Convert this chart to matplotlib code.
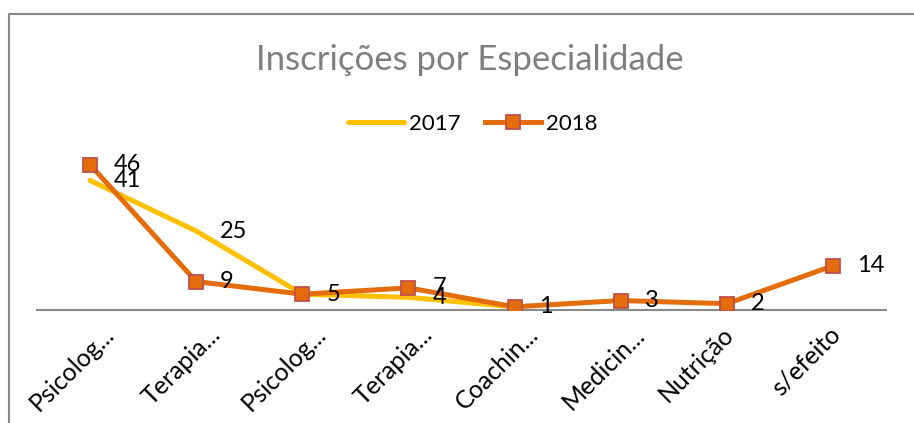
import matplotlib.pyplot as plt
from matplotlib.lines import Line2D
from matplotlib.transforms import ScaledTranslation
import numpy as np

plt.rcParams['font.family'] = ['Lato', 'DejaVu Sans']

categories = ["Psicolog...", "Terapia...", "Psicolog...", "Terapia...",
              "Coachin...", "Medicin...", "Nutrição", "s/efeito"]
v2017 = [41, 25, 5, 4, 1, np.nan, np.nan, np.nan]
v2018 = [46, 9, 5, 7, 1, 3, 2, 14]
labels2017 = [0, 1, 3]  # points of 2017 whose labels are visible

fig = plt.figure(figsize=(9.14, 4.23), dpi=100)
ax = fig.add_axes([37 / 914, 113 / 423, 849 / 914, 158 / 423])

x = np.arange(len(categories))
ax.plot(x, v2017, color="#FFC000", lw=3.6, solid_capstyle="round", label="2017")
ax.plot(x, v2018, color="#E46C0A", lw=3.6, marker="s", markersize=9.5,
        markerfacecolor="#E46C0A", markeredgecolor="#C0504D", markeredgewidth=1.3,
        label="2018")

off = ScaledTranslation(24 / 100, 0, fig.dpi_scale_trans)
for i in labels2017:
    ax.text(x[i], v2017[i], str(v2017[i]), fontsize=17, ha="left", va="center",
            transform=ax.transData + off)
for i, v in enumerate(v2018):
    ax.text(x[i], v, str(v), fontsize=17, ha="left", va="center",
            transform=ax.transData + off)

ax.set_xlim(-0.5, len(categories) - 0.5)
ax.set_ylim(0, 50)
ax.set_yticks([])
for s in ["top", "right", "left"]:
    ax.spines[s].set_visible(False)
ax.spines["bottom"].set_color("#898989")
ax.spines["bottom"].set_linewidth(1.5)
ax.spines["bottom"].set_zorder(0)

ax.set_xticks(x)
ax.set_xticklabels(categories, rotation=45, ha="right", rotation_mode="anchor",
                   fontsize=18)
ax.tick_params(axis="x", length=0, pad=9)
for lab in ax.get_xticklabels():
    dx = 12 if lab.get_text().endswith("...") else -5
    lab.set_transform(lab.get_transform() +
                      ScaledTranslation(dx / 100, 0, fig.dpi_scale_trans))

fig.text(469.5 / 914, 1 - 60 / 423, "Inscrições por Especialidade", fontsize=25,
         color="#7F7F7F", ha="center", va="center")

fig.legend(loc="center", bbox_to_anchor=(473 / 914, 1 - 124 / 423), ncol=2,
           frameon=False, fontsize=16, handlelength=2.5, handletextpad=0.25,
           columnspacing=1.1)

fig.add_artist(Line2D([9 / 914, 9 / 914, 1], [0, 1 - 14 / 423, 1 - 14 / 423],
                      color="#898989", lw=1.5, transform=fig.transFigure))

fig.savefig("out.png", dpi=100)
